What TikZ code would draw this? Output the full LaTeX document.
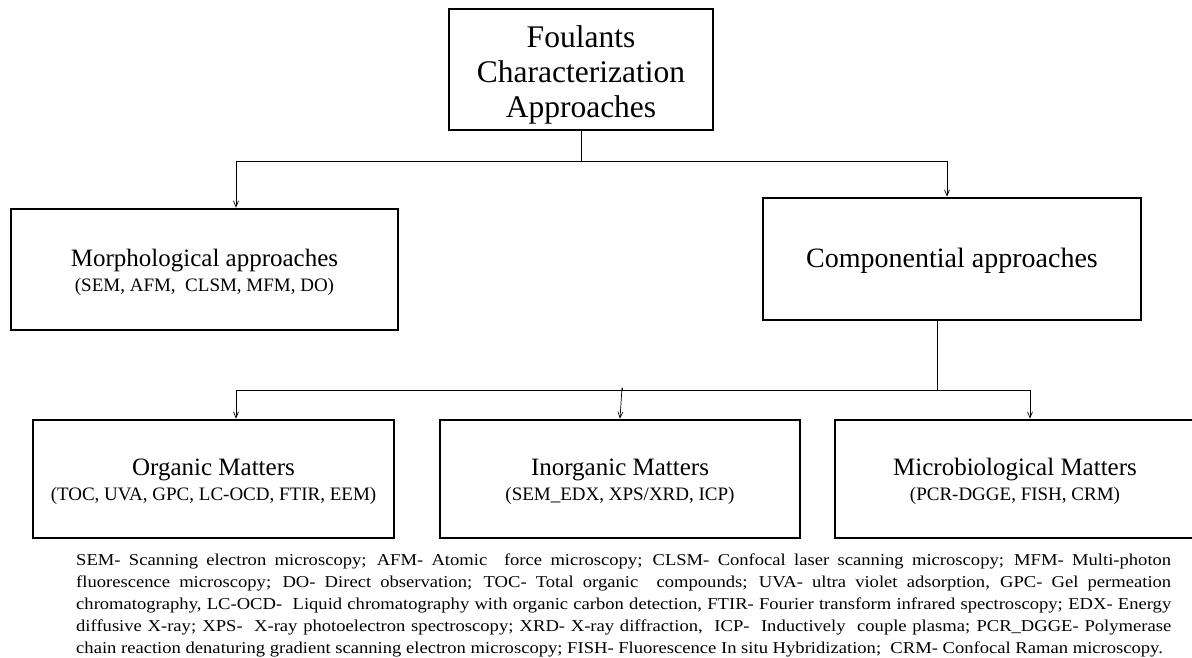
\documentclass[tikz,border=0pt]{standalone}
\usepackage{fontspec}
\setmainfont{Liberation Serif}
\newfontfamily\abbrfont[FakeStretch=1.12]{Liberation Serif}
\usetikzlibrary{arrows.meta,positioning}

\begin{document}
\begin{tikzpicture}[x=1pt,y=-1pt,
    box/.style={draw,line width=2.6pt,rectangle,align=center,inner sep=2pt},
    conn/.style={line width=0.7pt},
    arr/.style={conn,-{Straight Barb[length=6pt,width=5pt]}}]
    \def\hw{1192} % picture width
    \def\hh{657}  % picture height
    \def\subfs{\fontsize{19}{24}\selectfont} % size of the lists in brackets
    \useasboundingbox (0,0) rectangle (\hw,\hh);

    % top of the tree
    \node [box,minimum width=264pt,minimum height=121pt,
           font=\fontsize{31.5}{35}\selectfont]
    (top) at (581,69.5) {\rule{0pt}{32pt}Foulants\\Characterization\\Approaches};

    % second level
    \node [box,minimum width=387pt,minimum height=121pt,
           font=\fontsize{25}{25}\selectfont]
    (morph) at (204.5,269.5) {\rule{0pt}{23pt}Morphological approaches\\{\subfs (SEM, AFM, \ CLSM, MFM, DO)}};
    \node [box,minimum width=378pt,minimum height=122pt,
           font=\fontsize{28}{30}\selectfont]
    (comp) at (952,259) {\rule{0pt}{23pt}Componential approaches};

    % third level
    \node [box,minimum width=361pt,minimum height=118pt,
           font=\fontsize{25}{25}\selectfont]
    (org) at (213.5,479) {\rule{0pt}{23pt}Organic Matters\\{\subfs (TOC, UVA, GPC, LC-OCD, FTIR, EEM)}};
    \node [box,minimum width=360pt,minimum height=118pt,
           font=\fontsize{25}{25}\selectfont]
    (inorg) at (620,479) {\rule{0pt}{23pt}Inorganic Matters\\{\subfs (SEM\_EDX, XPS/XRD, ICP)}};
    \node [box,minimum width=360pt,minimum height=118pt,
           font=\fontsize{25}{25}\selectfont]
    (micro) at (1015,479) {\rule{0pt}{23pt}Microbiological Matters\\{\subfs (PCR-DGGE, FISH, CRM)}};

    % connectors
    \draw [conn] (top.south) -- ++(0,30) coordinate (j1);
    \draw [arr] (j1) -| ([xshift=31.5pt]morph.north);
    \draw [arr] (j1) -| ([xshift=-5pt]comp.north);
    \draw [conn] ([xshift=-15pt]comp.south) -- ++(0,69) coordinate (j2);
    \draw [arr] (j2) -| ([xshift=22.5pt]org.north);
    \draw [conn] (j2) -| ([xshift=2pt,yshift=31pt]inorg.north) coordinate (j3);
    \draw [arr] (j3) -- (inorg.north);
    \draw [arr] (j2) -| ([xshift=15pt]micro.north);

    % list of abbreviations
    \node [anchor=north west,inner sep=0pt,text width=1095pt,align=justify,
           font=\abbrfont\fontsize{16.6}{22}\selectfont]
    (abbr) at (76,554) {\hyphenpenalty=10000\exhyphenpenalty=10000
    SEM- Scanning electron microscopy; AFM- Atomic \ force microscopy; CLSM- Confocal laser scanning microscopy; MFM- Multi-photon\linebreak
    fluorescence microscopy; DO- Direct observation; TOC- Total organic \ compounds; UVA- ultra violet adsorption, GPC- Gel permeation\linebreak
    chromatography, LC-OCD- \ Liquid chromatography with organic carbon detection, FTIR- Fourier transform infrared spectroscopy; EDX- Energy\linebreak
    diffusive X-ray; XPS- \ X-ray photoelectron spectroscopy; XRD- X-ray diffraction, \ ICP- \ Inductively \ couple plasma; PCR\_DGGE- Polymerase\linebreak
    chain reaction denaturing gradient scanning electron microscopy; FISH- Fluorescence In situ Hybridization; \ CRM- Confocal Raman microscopy.};
\end{tikzpicture}
\end{document}
